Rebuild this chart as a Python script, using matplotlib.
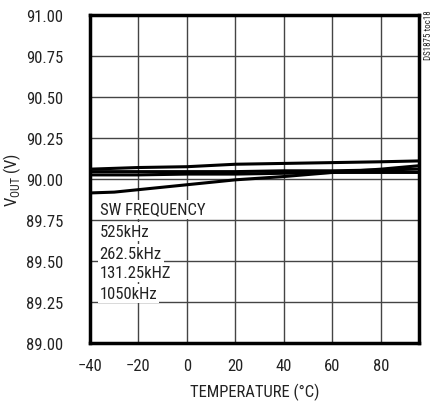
import matplotlib
matplotlib.use('Agg')
import matplotlib.pyplot as plt
from matplotlib import font_manager

names = {f.name for f in font_manager.fontManager.ttflist}
narrow = [n for n in ['Liberation Sans Narrow', 'Roboto Condensed', 'Open Sans Condensed',
                      'DejaVu Sans Condensed', 'Roboto'] if n in names]
fam = narrow[0] if narrow else 'DejaVu Sans'
plt.rcParams['font.family'] = [fam, 'DejaVu Sans']
plt.rcParams['mathtext.fontset'] = 'custom'
plt.rcParams['mathtext.rm'] = fam

temp = [-40, -30, -20, 0, 20, 40, 60, 80, 95]
v_525 = [90.06, 90.065, 90.07, 90.075, 90.09, 90.095, 90.10, 90.105, 90.11]
v_262 = [90.045, 90.045, 90.045, 90.045, 90.045, 90.05, 90.05, 90.055, 90.06]
v_131 = [90.025, 90.025, 90.025, 90.03, 90.03, 90.035, 90.04, 90.04, 90.04]
v_1050 = [89.915, 89.92, 89.935, 89.965, 89.995, 90.015, 90.04, 90.06, 90.08]

legend_lines = ['SW FREQUENCY', '525kHz', '262.5kHz', '131.25kHZ', '1050kHz']
xticks = [-40, -20, 0, 20, 40, 60, 80]
yticks = [89.00, 89.25, 89.50, 89.75, 90.00, 90.25, 90.50, 90.75, 91.00]

fig = plt.figure(figsize=(4.36, 4.02), dpi=100)
ax = fig.add_axes([90/436, 58/402, 329/436, 328/402])

for v in [v_525, v_262, v_131, v_1050]:
    ax.plot(temp, v, color='black', lw=2.2, zorder=3)

ax.set_xlim(-40, 95.7)
ax.set_ylim(89, 91)
ax.set_xticks(xticks)
ax.set_yticks(yticks)
ax.set_yticklabels(['%.2f' % y for y in yticks])
ax.grid(True, color='#444444', lw=1.0)
ax.tick_params(length=0, labelsize=12, pad=11, colors='#222222')
ax.tick_params(axis='y', pad=19)
for s in ax.spines.values():
    s.set_linewidth(2.5)

ax.set_xlabel('TEMPERATURE (°C)', fontsize=12, color='#222222', labelpad=7)
ax.set_ylabel(r'V$_{\mathrm{OUT}}$ (V)', fontsize=12, color='#222222', labelpad=2)

ypos = [89.817, 89.677, 89.543, 89.427, 89.30]
for txt, y in zip(legend_lines, ypos):
    ax.text(-36, y, txt, fontsize=12, color='#222222', va='center', ha='left',
            bbox=dict(facecolor='white', edgecolor='none', pad=1.5), zorder=4)

fig.text(424/436, 1 - 10/402, 'DS1875 toc18', rotation=90, fontsize=6.5,
         va='top', ha='left', color='#222222')

fig.savefig('out.png', dpi=100)
